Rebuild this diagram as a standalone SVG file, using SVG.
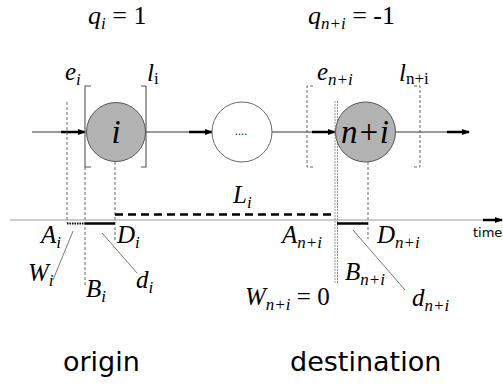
<svg xmlns="http://www.w3.org/2000/svg" width="503" height="385" viewBox="0 0 503 385">
<style>
.m{font-family:"Liberation Serif","Times New Roman",serif;font-size:25px;fill:#000}
.q{font-size:26px}
.it{font-style:italic}
.s{font-size:17px}
.nl{font-family:"Liberation Serif","Times New Roman",serif;font-size:33px;font-style:italic;text-anchor:middle;fill:#000}
.sans{font-family:"DejaVu Sans",Verdana,sans-serif;fill:#000}
.thin{stroke:#333;stroke-width:1;fill:none}
.thick{stroke:#000;stroke-width:2.5;fill:none}
.dash{stroke:#555;stroke-width:0.9;stroke-dasharray:3 2;fill:none}
.brk{stroke:#555;stroke-width:1.1;fill:none}
.lead{stroke:#555;stroke-width:0.8;fill:none}
.node{fill:#b3b3b3;stroke:#555;stroke-width:1}
</style>
<defs>
<marker id="ah" markerWidth="8" markerHeight="6" refX="7" refY="3" orient="auto" markerUnits="userSpaceOnUse">
<path d="M0,0 L8,3 L0,6 Z" fill="#000"/>
</marker>
</defs>

<g id="connectors">
<line class="thin" x1="32" y1="132" x2="85" y2="132"/>
<line class="thick" x1="61" y1="132" x2="85" y2="132" marker-end="url(#ah)"/>
<line class="thin" x1="146" y1="132" x2="212" y2="132"/>
<line class="thick" x1="189" y1="132" x2="212" y2="132" marker-end="url(#ah)"/>
<line class="thin" x1="272" y1="132" x2="335" y2="132"/>
<line class="thick" x1="312" y1="132" x2="335" y2="132" marker-end="url(#ah)"/>
<line class="thin" x1="396" y1="132" x2="469" y2="132"/>
<line class="thick" x1="447" y1="132" x2="469" y2="132" marker-end="url(#ah)"/>
</g>

<g id="guides">
<line class="dash" x1="67" y1="102" x2="67" y2="223"/>
<path class="brk" d="M91,86 H85 V167 H91"/>
<path class="brk" d="M141,86 H146 V167 H141"/>
<line class="dash" x1="85" y1="167" x2="85" y2="287"/>
<line class="dash" x1="115" y1="162" x2="115" y2="241"/>
<path class="dash" d="M313,86 H307 V167 H313"/>
<path class="dash" d="M414,86 H420 V167 H414"/>
<line stroke="#888" stroke-width="0.9" stroke-dasharray="2 1" x1="335" y1="101" x2="335" y2="283"/>
<line stroke="#888" stroke-width="0.9" stroke-dasharray="2 1" x1="337.5" y1="101" x2="337.5" y2="283"/>
<line class="dash" x1="368" y1="162" x2="368" y2="239"/>
</g>

<g id="node-i">
<circle class="node" cx="116" cy="132" r="29.5"/>
<text class="nl" x="116" y="143">i</text>
</g>
<g id="node-dots">
<circle cx="242" cy="132" r="30" fill="#fff" stroke="#666" stroke-width="1"/>
<text class="sans" x="241" y="135" font-size="10" text-anchor="middle">....</text>
</g>
<g id="node-ni">
<circle class="node" cx="365.5" cy="132" r="30"/>
<text class="nl" x="365" y="143">n+i</text>
</g>

<g id="axis">
<line stroke="#999" stroke-width="1.2" x1="10" y1="220" x2="496" y2="220"/>
<line class="thick" x1="483" y1="220" x2="502" y2="220" marker-end="url(#ah)"/>
<text class="sans" x="473" y="237" font-size="13">time</text>
<line stroke="#000" stroke-width="2.5" stroke-dasharray="8 5" x1="115" y1="214.5" x2="333" y2="214.5"/>
<line stroke="#000" stroke-width="2" stroke-dasharray="1.5 1" x1="67" y1="223.5" x2="85" y2="223.5"/>
<line class="thick" x1="85" y1="223.5" x2="115" y2="223.5"/>
<line class="thick" x1="337" y1="223.5" x2="368" y2="223.5"/>
<line class="lead" x1="53" y1="280" x2="73" y2="231"/>
<line class="lead" x1="137" y1="273" x2="102" y2="233"/>
<line class="lead" x1="405" y1="290" x2="353" y2="230"/>
</g>

<g id="labels">
<text class="m q" x="88" y="24"><tspan class="it">q</tspan><tspan class="it s" dy="5">i</tspan><tspan dy="-5"> = 1</tspan></text>
<text class="m q" x="308" y="24"><tspan class="it">q</tspan><tspan class="it s" dy="5">n+i</tspan><tspan dy="-5"> = -1</tspan></text>
<text class="m" x="65" y="80"><tspan class="it">e</tspan><tspan class="it s" dy="5">i</tspan></text>
<text class="m" x="147" y="81"><tspan class="it">l</tspan><tspan class="s" dy="3">i</tspan></text>
<text class="m" x="317" y="80"><tspan class="it">e</tspan><tspan class="it s" dy="5">n+i</tspan></text>
<text class="m" x="399" y="81"><tspan class="it">l</tspan><tspan class="s" dy="3">n+i</tspan></text>
<text class="m" x="233" y="203"><tspan class="it">L</tspan><tspan class="it s" dy="5">i</tspan></text>
<text class="m" x="41" y="243"><tspan class="it">A</tspan><tspan class="it s" dy="5">i</tspan></text>
<text class="m" x="117" y="243"><tspan class="it">D</tspan><tspan class="it s" dy="5">i</tspan></text>
<text class="m" x="28" y="281"><tspan class="it">W</tspan><tspan class="it s" dy="5">i</tspan></text>
<text class="m" x="86" y="297"><tspan class="it">B</tspan><tspan class="it s" dy="5">i</tspan></text>
<text class="m" x="136" y="288"><tspan class="it">d</tspan><tspan class="it s" dy="5">i</tspan></text>
<text class="m" x="282" y="243"><tspan class="it">A</tspan><tspan class="it s" dy="5">n+i</tspan></text>
<text class="m" x="377" y="243"><tspan class="it">D</tspan><tspan class="it s" dy="5">n+i</tspan></text>
<text class="m" x="345" y="280"><tspan class="it">B</tspan><tspan class="it s" dy="5">n+i</tspan></text>
<text class="m" x="245" y="305"><tspan class="it">W</tspan><tspan class="it s" dy="5">n+i</tspan><tspan dy="-5"> = 0</tspan></text>
<text class="m" x="412" y="306"><tspan class="it">d</tspan><tspan class="it s" dy="5">n+i</tspan></text>
<text class="sans" x="63" y="371" font-size="27">origin</text>
<text class="sans" x="290" y="371" font-size="27">destination</text>
</g>
</svg>
